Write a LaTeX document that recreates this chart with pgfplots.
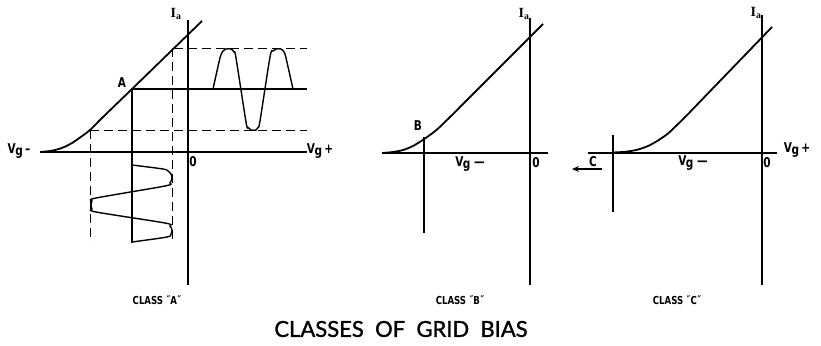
\documentclass[border=0pt]{standalone}
\usepackage{fontspec}
\setmainfont{Lato}
\newfontfamily\titlefont[FakeBold=1.3]{Lato}
\newfontfamily\labfont[FakeStretch=0.78]{DejaVu Sans}
\newfontfamily\serf{Liberation Serif}
\usepackage{pgfplots}
\pgfplotsset{compat=1.18}
\usetikzlibrary{arrows.meta}
\tikzset{
  ax/.style={black, line width=1.1pt},
  crv/.style={black, line width=1.8pt, smooth, tension=0.5},
  wav/.style={black, line width=1.4pt, smooth, tension=0.5},
  dsh/.style={black, line width=0.9pt, dash pattern=on 9pt off 5pt},
  lab/.style={font=\labfont\bfseries\fontsize{13.5}{13.5}\selectfont, inner sep=0pt},
  cls/.style={font=\labfont\bfseries\fontsize{11}{11}\selectfont, inner sep=0pt},
  ia/.style={font=\serf\bfseries\fontsize{14}{14}\selectfont, inner sep=0pt},
}
\newcommand{\Vg}{V\kern-0.5pt\raisebox{-0.3ex}{g}}
\begin{document}
\begin{tikzpicture}
\path[use as bounding box] (0,0) rectangle (821pt,345pt);
\begin{axis}[at={(0,0)}, anchor=south west, scale only axis,
  width=821pt, height=345pt, xmin=0, xmax=821, ymin=0, ymax=345,
  y dir=reverse, hide axis, clip=false]
% ---------------- Class A ----------------
\addplot[ax] coordinates {(188,20) (188,285)};
\addplot[ax] coordinates {(40,152) (307,152)};
\addplot[crv] coordinates {(41,152) (53,150.5) (63,147.5) (72,143) (80,137.5) (90,130) (103,117) (132,89) (202,21)};
\addplot[dsh] coordinates {(174,48) (307,48)};
\addplot[dsh] coordinates {(90,130) (307,130)};
\addplot[dsh] coordinates {(90,130) (90,242)};
\addplot[dsh] coordinates {(172,48) (172,242)};
\addplot[ax] coordinates {(132,89) (307,89)};
\addplot[ax] coordinates {(132,89) (132,243)};
% output waveform
\addplot[wav] coordinates {(213,89) (220,58) (223,51) (226,49) (231,49) (234,52) (236,58) (246,122) (248,127.5) (251,130) (256,130) (258,127.5) (260,121) (270,57) (273,51) (276,49) (281,49) (284,52) (286,58) (293,89)};
% input waveform
\addplot[wav] coordinates {(132,165) (163,169) (168,171) (171,174) (172,178) (170,183) (165,186) (96,198) (92,201) (91,205) (92,209) (96,212) (165,223) (170,226) (172,230) (171,234) (167,237) (132,242)};
\node[ia] at (176,14) {I\textsubscript{a}};
\node[lab] at (122,83) {A};
\node[lab] at (19,151) {\Vg\,–};
\node[lab] at (320,151) {\Vg\,+};
\node[lab] at (193,162) {0};
\node[cls] at (157,300) {CLASS ˝A˝};
% ---------------- Class B ----------------
\addplot[ax] coordinates {(530,18) (530,285)};
\addplot[ax] coordinates {(382,153) (548,153)};
\addplot[crv] coordinates {(382,153) (393,152) (403,150) (413,146) (425,138.5) (437,129.5) (450,117) (463,104) (477,90) (543,24)};
\addplot[ax] coordinates {(424,137) (424,233)};
\node[ia] at (524,14) {I\textsubscript{a}};
\node[lab] at (418,126) {B};
\node[lab] at (470,164) {\Vg\ —};
\node[lab] at (536,163) {0};
\node[cls] at (460,300) {CLASS ˝B˝};
% ---------------- Class C ----------------
\addplot[ax] coordinates {(762,15) (762,285)};
\addplot[ax] coordinates {(588,153) (777,153)};
\addplot[ax] coordinates {(613,135) (613,212)};
\addplot[crv] coordinates {(613,152.5) (625,151.8) (637,149.8) (648,146) (658,140.5) (668,133.5) (678,124) (690,112) (772,27)};
\addplot[black, line width=1.3pt, -{Stealth[length=7pt,width=6pt]}] coordinates {(602,169) (572,169)};
\node[ia] at (756,13) {I\textsubscript{a}};
\node[lab] at (593,162) {C};
\node[lab] at (693,163) {\Vg\ —};
\node[lab] at (767,163) {0};
\node[lab] at (797,150) {\Vg\,+};
\node[cls] at (677,300) {CLASS ˝C˝};
% title
\node[font=\titlefont\fontsize{22}{22}\selectfont, inner sep=0pt] at (401,329) {CLASSES\ \ OF\ \ GRID\ \ BIAS};
\end{axis}
\end{tikzpicture}
\end{document}
